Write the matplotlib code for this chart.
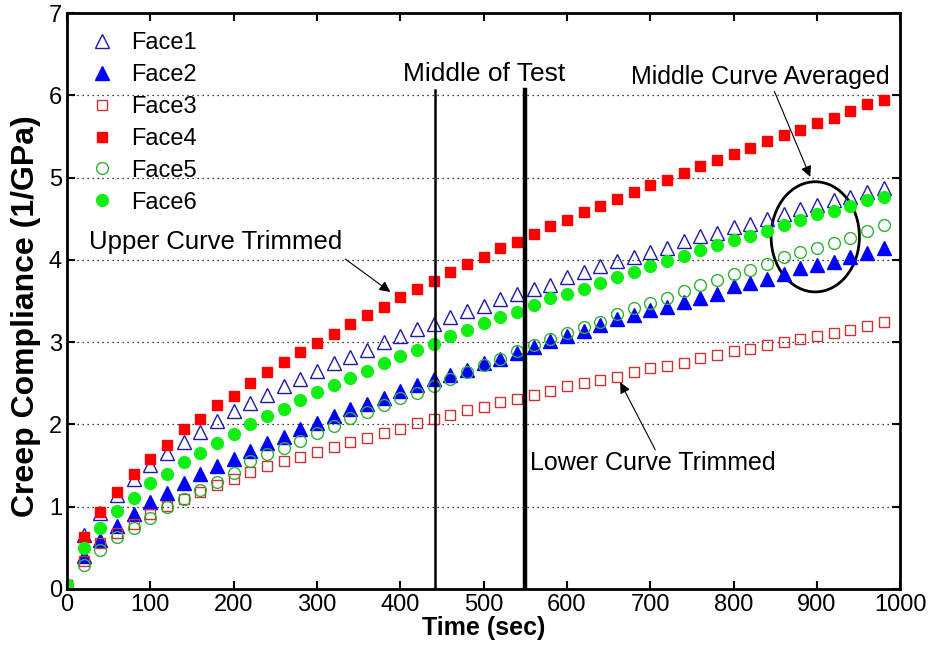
import numpy as np
import matplotlib
matplotlib.use('Agg')
import matplotlib.pyplot as plt
from matplotlib.patches import Ellipse

plt.rcParams['font.family'] = ['Liberation Sans', 'DejaVu Sans']
NARROW = ['Liberation Sans Narrow', 'Liberation Sans', 'DejaVu Sans']

# time in seconds, one reading every 20 s
time = np.arange(0, 1000, 20)

face1 = [0.05, 0.65, 0.92, 1.14, 1.33, 1.50, 1.65, 1.78, 1.91, 2.04,
         2.16, 2.26, 2.36, 2.46, 2.55, 2.65, 2.74, 2.82, 2.90, 3.00,
         3.07, 3.16, 3.22, 3.30, 3.38, 3.44, 3.52, 3.58, 3.65, 3.70,
         3.79, 3.85, 3.92, 3.98, 4.04, 4.09, 4.15, 4.23, 4.29, 4.33,
         4.40, 4.44, 4.50, 4.56, 4.62, 4.67, 4.73, 4.76, 4.83, 4.87]
face2 = [0.05, 0.40, 0.59, 0.76, 0.91, 1.05, 1.16, 1.28, 1.39, 1.49,
         1.58, 1.68, 1.77, 1.85, 1.94, 2.02, 2.10, 2.18, 2.25, 2.32,
         2.40, 2.48, 2.55, 2.60, 2.66, 2.74, 2.80, 2.87, 2.94, 3.01,
         3.07, 3.13, 3.21, 3.28, 3.33, 3.39, 3.43, 3.49, 3.54, 3.59,
         3.68, 3.72, 3.77, 3.83, 3.90, 3.94, 3.97, 4.04, 4.08, 4.14]
face3 = [0.05, 0.34, 0.56, 0.68, 0.79, 0.91, 1.01, 1.09, 1.18, 1.26,
         1.33, 1.42, 1.49, 1.55, 1.60, 1.66, 1.72, 1.79, 1.83, 1.90,
         1.94, 2.01, 2.06, 2.11, 2.17, 2.21, 2.27, 2.31, 2.36, 2.41,
         2.46, 2.50, 2.54, 2.58, 2.63, 2.68, 2.71, 2.75, 2.81, 2.84,
         2.89, 2.92, 2.96, 3.00, 3.04, 3.07, 3.11, 3.15, 3.19, 3.24]
face4 = [0.05, 0.63, 0.93, 1.18, 1.39, 1.58, 1.75, 1.94, 2.07, 2.23,
         2.35, 2.50, 2.63, 2.76, 2.88, 2.99, 3.10, 3.22, 3.33, 3.43,
         3.55, 3.64, 3.74, 3.85, 3.95, 4.04, 4.14, 4.22, 4.31, 4.41,
         4.48, 4.58, 4.66, 4.74, 4.83, 4.91, 4.97, 5.06, 5.14, 5.22,
         5.29, 5.36, 5.44, 5.52, 5.58, 5.66, 5.73, 5.81, 5.89, 5.95]
face5 = [0.05, 0.29, 0.47, 0.63, 0.74, 0.86, 1.00, 1.09, 1.20, 1.30,
         1.41, 1.55, 1.64, 1.71, 1.80, 1.89, 1.98, 2.08, 2.15, 2.23,
         2.32, 2.38, 2.47, 2.55, 2.63, 2.72, 2.80, 2.89, 2.96, 3.04,
         3.11, 3.18, 3.24, 3.34, 3.42, 3.48, 3.54, 3.62, 3.69, 3.75,
         3.83, 3.88, 3.95, 4.03, 4.09, 4.15, 4.21, 4.27, 4.35, 4.42]
face6 = [0.05, 0.50, 0.74, 0.94, 1.10, 1.29, 1.40, 1.54, 1.65, 1.77,
         1.88, 2.00, 2.10, 2.18, 2.30, 2.39, 2.48, 2.56, 2.65, 2.74,
         2.83, 2.90, 2.98, 3.07, 3.15, 3.23, 3.31, 3.37, 3.45, 3.53,
         3.58, 3.64, 3.72, 3.79, 3.85, 3.92, 3.98, 4.05, 4.12, 4.18,
         4.24, 4.29, 4.35, 4.42, 4.49, 4.56, 4.60, 4.66, 4.73, 4.77]

middle_lines = [442, 550]

fig = plt.figure(figsize=(9.3, 6.6), dpi=100)
ax = fig.add_axes([0.072, 0.108, 0.896, 0.872])

ax.plot(time, face1, '^', ms=9.5, mfc='none', mec='#1c1ca8', mew=1.0, ls='none', label='Face1')
ax.plot(time, face2, '^', ms=9.5, mfc='#0000ff', mec='#0000ff', ls='none', label='Face2')
ax.plot(time, face3, 's', ms=7, mfc='none', mec='#cc3333', mew=1.0, ls='none', label='Face3')
ax.plot(time, face4, 's', ms=7, mfc='#ff0000', mec='#ff0000', ls='none', label='Face4')
ax.plot(time, face5, 'o', ms=8.5, mfc='none', mec='#33b033', mew=1.0, ls='none', label='Face5')
ax.plot(time, face6, 'o', ms=8.5, mfc='#11ee11', mec='#11ee11', ls='none', label='Face6')

ax.plot([middle_lines[0]] * 2, [0, 6.06], color='black', lw=1.8)
ax.plot([middle_lines[1]] * 2, [0, 6.06], color='black', lw=3.2)

ax.set_xlim(0, 1000)
ax.set_ylim(0, 7)
ax.set_xticks(range(0, 1001, 100))
ax.set_yticks(range(0, 8))
ax.yaxis.grid(True, ls=(0, (1, 3)), color='black', lw=0.9)
ax.tick_params(direction='in', length=6, width=1.5, top=True, right=True,
               labelsize=17)
for lab in ax.get_xticklabels() + ax.get_yticklabels():
    lab.set_family(NARROW)
for sp in ax.spines.values():
    sp.set_linewidth(2)

ax.set_xlabel('Time (sec)', fontsize=18, fontweight='bold', family=NARROW, labelpad=0)
ax.set_ylabel('Creep Compliance (1/GPa)', fontsize=23, fontweight='bold')
ax.yaxis.set_label_coords(-0.031, 0.474)

ax.legend(loc='upper left', frameon=False, fontsize=17, labelspacing=0.42,
          handletextpad=0.5, borderaxespad=0.4, handlelength=1.4)

ax.text(501, 6.26, 'Middle of Test', fontsize=19, ha='center', va='center')
ax.annotate('Middle Curve Averaged', xy=(892, 5.01), xytext=(832, 6.23),
            fontsize=18, ha='center', va='center',
            arrowprops=dict(arrowstyle='-|>', color='black', lw=0.8,
                            mutation_scale=16, shrinkA=0, shrinkB=0,
                            relpos=(0.55, 0)))
ax.add_patch(Ellipse((898, 4.28), 106, 1.34, fill=False, lw=2, color='black'))

ax.text(27, 4.22, 'Upper Curve Trimmed', fontsize=18.5, ha='left', va='center')
ax.annotate('', xy=(388, 3.61), xytext=(334, 4.01),
            arrowprops=dict(arrowstyle='-|>', color='black', lw=0.8,
                            mutation_scale=16, shrinkA=0, shrinkB=0))

ax.text(556, 1.53, 'Lower Curve Trimmed', fontsize=18, ha='left', va='center')
ax.annotate('', xy=(664, 2.51), xytext=(706, 1.69),
            arrowprops=dict(arrowstyle='-|>', color='black', lw=0.8,
                            mutation_scale=16, shrinkA=0, shrinkB=0))

fig.savefig('out.png', dpi=100)
